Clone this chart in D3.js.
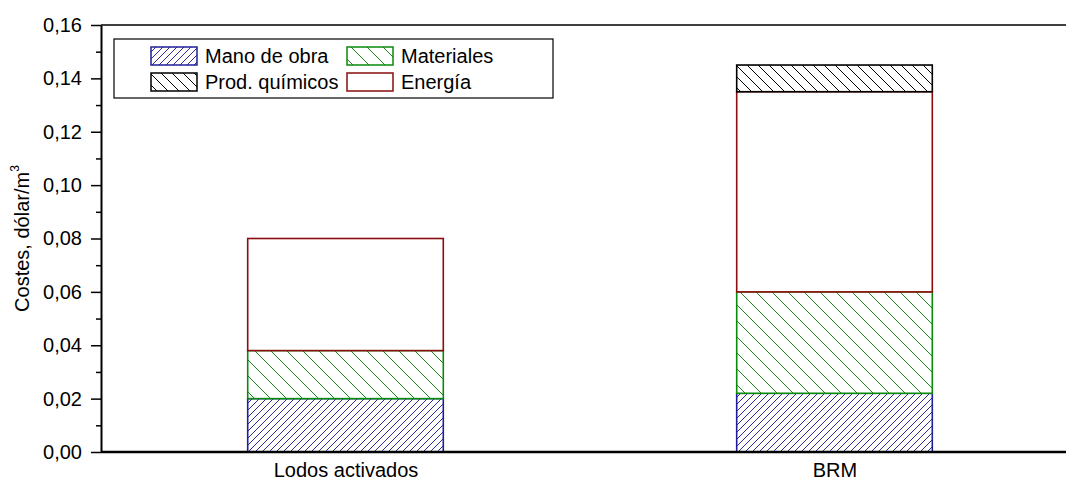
<!DOCTYPE html>
<html>
<head>
<meta charset="utf-8">
<script src="https://cdn.jsdelivr.net/npm/d3@7"></script>
<style>
  html, body { margin: 0; padding: 0; background: #fff; }
  svg { display: block; font-family: "Liberation Sans", Arial, sans-serif; }
</style>
</head>
<body>
<svg id="chart" width="1066" height="481"></svg>
<script>
// Wastewater treatment cost breakdown (USD per m3)
const categories = ["Lodos activados", "BRM"];
const seriesNames = ["Mano de obra", "Materiales", "Prod. químicos", "Energía"];
const manoDeObra   = [0.020, 0.022];
const materiales   = [0.018, 0.038];
const prodQuimicos = [0.000, 0.010];
const energia      = [0.042, 0.075];
const yTicks = [0, 0.02, 0.04, 0.06, 0.08, 0.10, 0.12, 0.14, 0.16];

// Stack order from the bottom up
const stackOrder = ["Mano de obra", "Materiales", "Energía", "Prod. químicos"];
const seriesValues = {
  "Mano de obra": manoDeObra,
  "Materiales": materiales,
  "Prod. químicos": prodQuimicos,
  "Energía": energia
};
const rows = categories.map((c, i) => {
  const r = { cat: c };
  seriesNames.forEach(s => r[s] = seriesValues[s][i]);
  return r;
});

const svg = d3.select("#chart");
const W = 1066;
const margin = { left: 101, top: 25, bottom: 452, right: 1079 };

const x = d3.scalePoint().domain(categories).range([margin.left, margin.right]).padding(0.5);
const barW = x.step() * 0.4;
const y = d3.scaleLinear().domain([0, 0.16]).range([margin.bottom, margin.top]);

// Hatch patterns
const defs = svg.append("defs");
function hatch(id, color, spacing, dir) {
  const p = defs.append("pattern")
    .attr("id", id)
    .attr("patternUnits", "userSpaceOnUse")
    .attr("width", spacing).attr("height", spacing);
  p.append("rect").attr("width", spacing).attr("height", spacing).attr("fill", "#fff");
  const s = spacing;
  const d = dir > 0
    ? `M0,${s} L${s},0 M${-s},${s} L0,0 M${s},${2*s} L${2*s},${s}`
    : `M0,0 L${s},${s} M${-s},0 L0,${s} M${s},0 L${2*s},${s}`;
  p.append("path").attr("d", d).attr("stroke", color).attr("stroke-width", 1).attr("fill", "none");
}
hatch("h-mano", "#2b2b9c", 7, 1);
hatch("h-mat", "#118a11", 16, -1);
hatch("h-quim", "#000", 11, -1);

const style = {
  "Mano de obra": { fill: "url(#h-mano)", stroke: "#1f1f99" },
  "Materiales":   { fill: "url(#h-mat)",  stroke: "#0a8a0a" },
  "Prod. químicos": { fill: "url(#h-quim)", stroke: "#000" },
  "Energía":      { fill: "#fff",          stroke: "#8b0d0d" }
};

const stacked = d3.stack().keys(stackOrder)(rows);

const gBars = svg.append("g");
stacked.forEach(layer => {
  gBars.selectAll(null)
    .data(layer.filter(d => d[1] - d[0] > 0))
    .join("rect")
    .attr("x", d => x(d.data.cat) - barW / 2)
    .attr("width", barW)
    .attr("y", d => y(d[1]))
    .attr("height", d => y(d[0]) - y(d[1]))
    .attr("fill", style[layer.key].fill)
    .attr("stroke", style[layer.key].stroke)
    .attr("stroke-width", 1.6);
});

// Y axis with major and minor ticks
const fmt = v => d3.format(".2f")(v).replace(".", ",");
const minor = d3.range(0.01, 0.16, 0.02);
svg.append("g")
  .attr("transform", `translate(${margin.left},0)`)
  .call(d3.axisLeft(y).tickValues(minor).tickSize(5).tickFormat(""))
  .call(g => g.select(".domain").remove())
  .call(g => g.selectAll("line").attr("stroke", "#000").attr("stroke-width", 1.5));
const yAx = svg.append("g")
  .attr("transform", `translate(${margin.left},0)`)
  .call(d3.axisLeft(y).tickValues(yTicks).tickSize(10).tickSizeOuter(0).tickPadding(9).tickFormat(fmt));
yAx.select(".domain").attr("stroke", "#000").attr("stroke-width", 2);
yAx.selectAll(".tick line").attr("stroke", "#000").attr("stroke-width", 1.5);
yAx.selectAll("text").attr("font-size", 20).attr("fill", "#000")
  .attr("font-family", "'Liberation Sans', Arial, sans-serif");

// Bottom axis
const xAx = svg.append("g")
  .attr("transform", `translate(0,${margin.bottom})`)
  .call(d3.axisBottom(x).tickSize(0).tickPadding(11));
xAx.select(".domain").attr("d", `M${margin.left},0H${W}`).attr("stroke", "#000").attr("stroke-width", 2.5);
xAx.selectAll("text").attr("font-size", 20).attr("fill", "#000")
  .attr("font-family", "'Liberation Sans', Arial, sans-serif");

// Top frame line
svg.append("line")
  .attr("x1", margin.left).attr("x2", W)
  .attr("y1", y(0.16)).attr("y2", y(0.16))
  .attr("stroke", "#000").attr("stroke-width", 1.5);

// Y axis title
const yt = svg.append("text")
  .attr("transform", `translate(29,${(margin.top + margin.bottom) / 2}) rotate(-90)`)
  .attr("text-anchor", "middle")
  .attr("font-size", 20)
  .attr("fill", "#000");
yt.append("tspan").text("Costes, dólar/m");
yt.append("tspan").attr("font-size", 12).attr("dy", -10).text("3");

// Legend
const leg = svg.append("g");
leg.append("rect")
  .attr("x", 114).attr("y", 39).attr("width", 439).attr("height", 59)
  .attr("fill", "#fff").attr("stroke", "#000").attr("stroke-width", 1.2);
const legendLayout = [
  { name: "Mano de obra", col: 0, row: 0 },
  { name: "Materiales", col: 1, row: 0 },
  { name: "Prod. químicos", col: 0, row: 1 },
  { name: "Energía", col: 1, row: 1 }
];
const colX = [151, 347];
const rowY = [47, 73];
legendLayout.forEach(l => {
  leg.append("rect")
    .attr("x", colX[l.col]).attr("y", rowY[l.row])
    .attr("width", 46).attr("height", 18)
    .attr("fill", style[l.name].fill)
    .attr("stroke", style[l.name].stroke)
    .attr("stroke-width", 1.5);
  leg.append("text")
    .attr("x", colX[l.col] + 54).attr("y", rowY[l.row] + 9)
    .attr("dy", "0.36em")
    .attr("font-size", 20).attr("fill", "#000")
    .text(l.name);
});
</script>
</body>
</html>
